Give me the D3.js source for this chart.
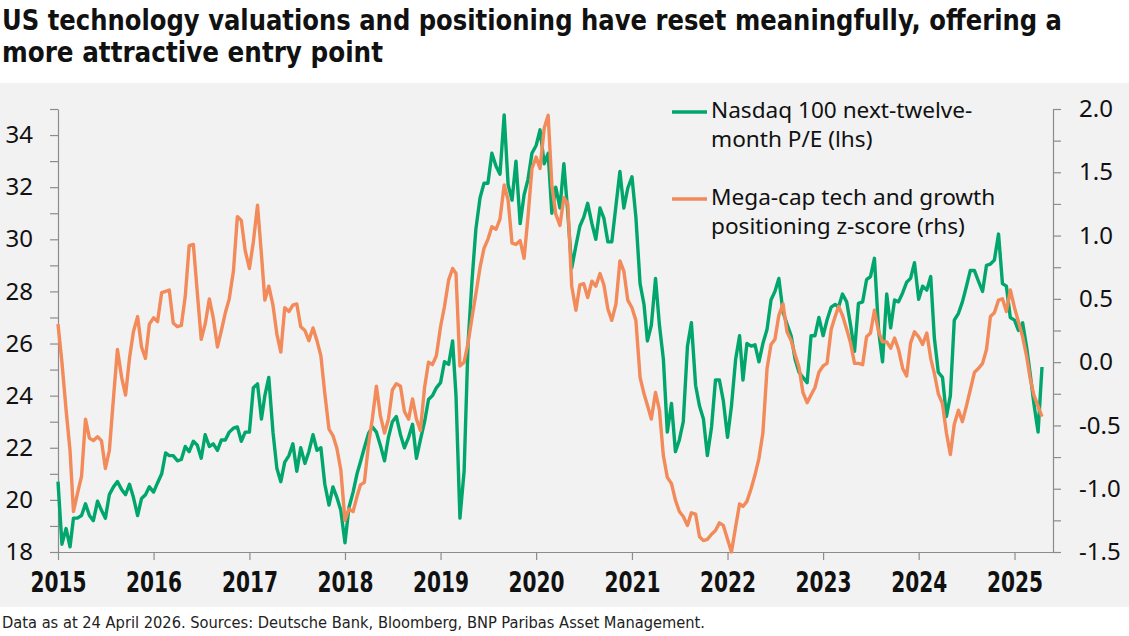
<!DOCTYPE html>
<html>
<head>
<meta charset="utf-8">
<script src="https://cdn.jsdelivr.net/npm/d3@7"></script>
<style>
  body { margin: 0; background: #ffffff; }
  svg { display: block; }
</style>
</head>
<body>
<div class="canvas"></div>
<script>
// ---- text ----
const titleLines = [
    'US technology valuations and positioning have reset meaningfully, offering a',
    'more attractive entry point'
];
const footnote = 'Data as at 24 April 2026. Sources: Deutsche Bank, Bloomberg, BNP Paribas Asset Management.';
const legendPe = ['Nasdaq 100 next-twelve-', 'month P/E (lhs)'];
const legendPos = ['Mega-cap tech and growth', 'positioning z-score (rhs)'];

// ---- ticks ----
const yearTicks = [2015, 2016, 2017, 2018, 2019, 2020, 2021, 2022, 2023, 2024, 2025];
const leftTicks = [18, 19, 20, 21, 22, 23, 24, 25, 26, 27, 28, 29, 30, 31, 32, 33, 34, 35];
const leftLabels = [18, 20, 22, 24, 26, 28, 30, 32, 34];
const rightTicks = [-1.5, -1.25, -1.0, -0.75, -0.5, -0.25, 0, 0.25, 0.5, 0.75, 1.0, 1.25, 1.5, 1.75, 2.0];
const rightLabels = [-1.5, -1.0, -0.5, 0, 0.5, 1.0, 1.5, 2.0];

// ---- data: semi-monthly readings (1st and 16th of each month) from Jan 2015 ----
const startYear = 2015;
const peValues = [
    20.7, 18.3, 18.9, 18.2, 19.3, 19.3, 19.4, 19.85, 19.4, 19.2, 19.95, 19.6, 19.3, 20.2, 20.5, 20.7, 20.4, 20.2, 20.6, 20.1, 19.4, 20.05, 20.2, 20.5,   // 2015
    20.3, 20.65, 21.0, 21.8, 21.7, 21.7, 21.5, 21.55, 22.05, 21.85, 22.25, 22.1, 21.6, 22.5, 22.05, 22.15, 21.9, 22.3, 22.3, 22.6, 22.75, 22.8, 22.25, 22.6, // 2016
    22.6, 24.3, 24.45, 23.1, 24.0, 24.7, 22.6, 21.2, 20.7, 21.45, 21.7, 22.15, 21.1, 22.0, 21.4, 21.85, 22.5, 21.9, 22.0, 20.6, 19.8, 20.5, 20.1, 19.6,    // 2017
    18.35, 19.7, 20.3, 21.0, 21.45, 22.0, 22.55, 22.8, 22.6, 22.1, 21.5, 22.4, 23.0, 23.2, 22.5, 22.0, 22.4, 22.9, 21.6, 22.3, 23.0, 23.85, 24.0, 24.3,  // 2018
    24.5, 25.3, 25.2, 26.1, 24.0, 19.3, 21.1, 26.0, 28.4, 30.4, 31.6, 32.15, 32.15, 33.3, 32.8, 32.5, 34.77, 32.1, 31.5, 33.0, 30.6, 31.7, 32.3, 33.3, // 2019
    33.6, 34.2, 32.9, 33.3, 31.0, 32.0, 31.2, 32.9, 31.0, 28.9, 29.75, 30.5, 30.85, 31.38, 30.6, 30.0, 31.2, 30.8, 29.9, 29.9, 31.3, 32.6, 31.2, 31.96, // 2020
    32.4, 30.85, 28.3, 27.5, 26.1, 26.7, 28.5, 26.7, 25.4, 22.6, 23.7, 21.85, 22.3, 23.0, 25.9, 26.8, 24.4, 23.6, 23.1, 21.7, 22.8, 24.6, 24.6, 23.8,   // 2021
    22.4, 23.6, 25.4, 26.3, 24.6, 26.0, 25.9, 25.95, 25.3, 26.0, 26.55, 27.67, 28.0, 28.5, 27.2, 26.75, 26.3, 25.4, 24.9, 24.7, 24.5, 26.3, 26.3, 27.0, // 2022
    26.3, 26.9, 27.4, 27.5, 27.4, 27.9, 27.6, 26.7, 25.7, 27.54, 27.6, 28.45, 28.57, 29.27, 26.5, 25.3, 27.9, 26.6, 27.67, 27.6, 27.95, 28.35, 28.5, 29.1, // 2023
    27.7, 28.2, 28.05, 28.57, 26.2, 24.9, 24.7, 23.2, 24.0, 26.9, 27.16, 27.6, 28.18, 28.8, 28.8, 28.4, 28.0, 29.0, 29.05, 29.2, 30.2, 28.3, 28.2, 27.0, // 2024
    26.9, 26.5, 26.8, 25.88, 24.9, 23.7, 22.6, 25.1                                                                                                      // 2025
];
const posValues = [
    0.30, 0.0, -0.38, -0.7, -1.18, -1.04, -0.90, -0.45, -0.6, -0.62, -0.59, -0.62, -0.84, -0.70, -0.28, 0.10, -0.12, -0.26, 0.03, 0.24, 0.36, 0.12, 0.03, 0.30, // 2015
    0.35, 0.32, 0.55, 0.56, 0.57, 0.31, 0.28, 0.29, 0.52, 0.92, 0.93, 0.55, 0.18, 0.30, 0.50, 0.35, 0.12, 0.25, 0.39, 0.50, 0.72, 1.15, 1.12, 0.88,          // 2016
    0.74, 0.95, 1.24, 0.85, 0.49, 0.60, 0.45, 0.22, 0.08, 0.43, 0.40, 0.45, 0.46, 0.28, 0.25, 0.17, 0.27, 0.17, 0.05, -0.25, -0.53, -0.58, -0.68, -0.85,     // 2017
    -1.25, -1.16, -1.18, -1.06, -0.97, -0.95, -0.65, -0.44, -0.19, -0.42, -0.56, -0.45, -0.22, -0.17, -0.19, -0.39, -0.45, -0.29, -0.45, -0.54, -0.2, 0.0, -0.02, 0.05, // 2018
    0.28, 0.44, 0.65, 0.74, 0.70, -0.03, 0.0, 0.15, 0.35, 0.54, 0.75, 0.90, 0.97, 1.07, 1.05, 1.13, 1.40, 1.28, 0.94, 0.93, 0.96, 0.82, 1.15, 1.53,          // 2019
    1.62, 1.53, 1.85, 1.95, 1.40, 1.17, 1.08, 1.30, 1.25, 0.60, 0.41, 0.61, 0.62, 0.51, 0.64, 0.60, 0.70, 0.61, 0.42, 0.33, 0.46, 0.80, 0.72, 0.49,          // 2020
    0.43, 0.33, -0.12, -0.25, -0.34, -0.45, -0.24, -0.38, -0.74, -0.91, -0.96, -1.09, -1.18, -1.22, -1.29, -1.19, -1.20, -1.38, -1.41, -1.40, -1.36, -1.33, -1.27, -1.29, // 2021
    -1.40, -1.50, -1.30, -1.12, -1.14, -1.10, -1.0, -0.89, -0.76, -0.56, -0.05, 0.14, 0.18, 0.37, 0.46, 0.24, 0.17, 0.06, -0.04, -0.24, -0.32, -0.26, -0.20, -0.08, // 2022
    -0.03, -0.01, 0.26, 0.36, 0.44, 0.37, 0.26, 0.15, -0.01, -0.01, -0.02, 0.20, 0.23, 0.41, 0.24, 0.16, 0.16, 0.11, 0.19, 0.10, -0.05, -0.11, 0.15, 0.24,  // 2023
    0.20, 0.14, 0.23, 0.03, -0.09, -0.25, -0.33, -0.56, -0.73, -0.49, -0.38, -0.47, -0.35, -0.22, -0.08, -0.05, -0.01, 0.10, 0.36, 0.39, 0.49, 0.50, 0.40, 0.57, // 2024
    0.43, 0.32, 0.20, 0.05, -0.12, -0.26, -0.35, -0.43                                                                                                        // 2025
];

// ---- layout ----
const svgDims = { width: 1129, height: 636 };
const margin = { top: 109, right: 76, bottom: 84, left: 58 };
const graphWidth = svgDims.width - margin.left - margin.right;
const graphHeight = svgDims.height - margin.top - margin.bottom;

const colours = { pe: '#00a66b', pos: '#f28a5a', axis: '#8c8c8c', panel: '#f2f2f2', text: '#111111' };
const condensed = "'Liberation Sans Narrow', 'DejaVu Sans Condensed', 'Arial Narrow', sans-serif";
const regular = "'Noto Sans', 'Open Sans', sans-serif";

const obsDate = i => new Date(startYear + Math.floor(i / 24), Math.floor((i % 24) / 2), i % 2 ? 16 : 1);
const peData = peValues.map((v, i) => ({ date: obsDate(i), value: v }));
const posData = posValues.map((v, i) => ({ date: obsDate(i), value: v }));

const svg = d3.select('.canvas')
    .append('svg')
    .attr('width', svgDims.width)
    .attr('height', svgDims.height);

// grey panel
svg.append('rect')
    .attr('x', 0).attr('y', 83)
    .attr('width', svgDims.width).attr('height', 524)
    .attr('fill', colours.panel);

// title
svg.selectAll('.title')
    .data(titleLines)
    .enter()
    .append('text')
        .attr('class', 'title')
        .attr('x', 2)
        .attr('y', (d, i) => 30 + i * 32)
        .attr('font-family', condensed)
        .attr('font-weight', 'bold')
        .attr('font-size', 28)
        .attr('fill', colours.text)
        .attr('textLength', (d, i) => i === 0 ? 1060 : 381)
        .attr('lengthAdjust', 'spacingAndGlyphs')
        .text(d => d);

// footnote
svg.append('text')
    .attr('x', 2).attr('y', 628)
    .attr('font-family', condensed)
    .attr('font-size', 16)
    .attr('fill', '#222222')
    .attr('textLength', 703)
    .attr('lengthAdjust', 'spacingAndGlyphs')
    .text(footnote);

const graph = svg.append('g')
    .attr('transform', `translate(${margin.left}, ${margin.top})`);

const x = d3.scaleTime()
    .domain([new Date(2015, 0, 1), new Date(2025, 4, 28)])
    .range([0, graphWidth]);
const yLeft = d3.scaleLinear().domain([18, 35]).range([graphHeight, 0]);
const yRight = d3.scaleLinear().domain([-1.5, 2.0]).range([graphHeight, 0]);

// axes
const xAxis = d3.axisBottom(x)
    .tickValues(yearTicks.map(y => new Date(y, 0, 1)))
    .tickSize(8).tickSizeOuter(0).tickPadding(12)
    .tickFormat(d3.timeFormat('%Y'));
const leftAxis = d3.axisLeft(yLeft)
    .tickValues(leftTicks)
    .tickSize(8).tickSizeOuter(0).tickPadding(17)
    .tickFormat(d => leftLabels.includes(d) ? d : '');
const rightAxis = d3.axisRight(yRight)
    .tickValues(rightTicks)
    .tickSize(8).tickSizeOuter(0).tickPadding(18)
    .tickFormat(d => rightLabels.includes(d) ? d.toFixed(1) : '');

const xAxisGroup = graph.append('g')
    .attr('transform', `translate(0, ${graphHeight})`)
    .call(xAxis);
const leftAxisGroup = graph.append('g').call(leftAxis);
const rightAxisGroup = graph.append('g')
    .attr('transform', `translate(${graphWidth}, 0)`)
    .call(rightAxis);

[xAxisGroup, leftAxisGroup, rightAxisGroup].forEach(g => {
    g.selectAll('path, line').attr('stroke', colours.axis).attr('stroke-width', 1.2);
    g.selectAll('text').attr('fill', colours.text);
});
xAxisGroup.selectAll('text')
    .attr('font-family', condensed)
    .attr('font-weight', 'bold')
    .attr('font-size', 28)
    .attr('textLength', 56)
    .attr('lengthAdjust', 'spacingAndGlyphs');
leftAxisGroup.selectAll('text')
    .attr('font-family', regular)
    .attr('font-size', 24);
rightAxisGroup.selectAll('text')
    .attr('font-family', regular)
    .attr('font-size', 24);

// lines
const peLine = d3.line()
    .x(d => x(d.date))
    .y(d => yLeft(d.value));
const posLine = d3.line()
    .x(d => x(d.date))
    .y(d => yRight(d.value));

graph.append('path')
    .datum(peData)
    .attr('fill', 'none')
    .attr('stroke', colours.pe)
    .attr('stroke-width', 3.4)
    .attr('stroke-linejoin', 'round')
    .attr('d', peLine);
graph.append('path')
    .datum(posData)
    .attr('fill', 'none')
    .attr('stroke', colours.pos)
    .attr('stroke-width', 3.4)
    .attr('stroke-linejoin', 'round')
    .attr('d', posLine);

// legend
const legend = svg.append('g');
const legendItems = [
    { lines: legendPe, colour: colours.pe, y: 112 },
    { lines: legendPos, colour: colours.pos, y: 199 }
];
legendItems.forEach(item => {
    legend.append('line')
        .attr('x1', 672).attr('x2', 707)
        .attr('y1', item.y).attr('y2', item.y)
        .attr('stroke', item.colour)
        .attr('stroke-width', 3.5);
    legend.selectAll(null)
        .data(item.lines)
        .enter()
        .append('text')
            .attr('x', 711)
            .attr('y', (d, i) => item.y + 5.5 + i * 29)
            .attr('font-family', regular)
            .attr('font-size', 22.6)
            .attr('fill', colours.text)
            .text(d => d);
});
</script>
</body>
</html>
